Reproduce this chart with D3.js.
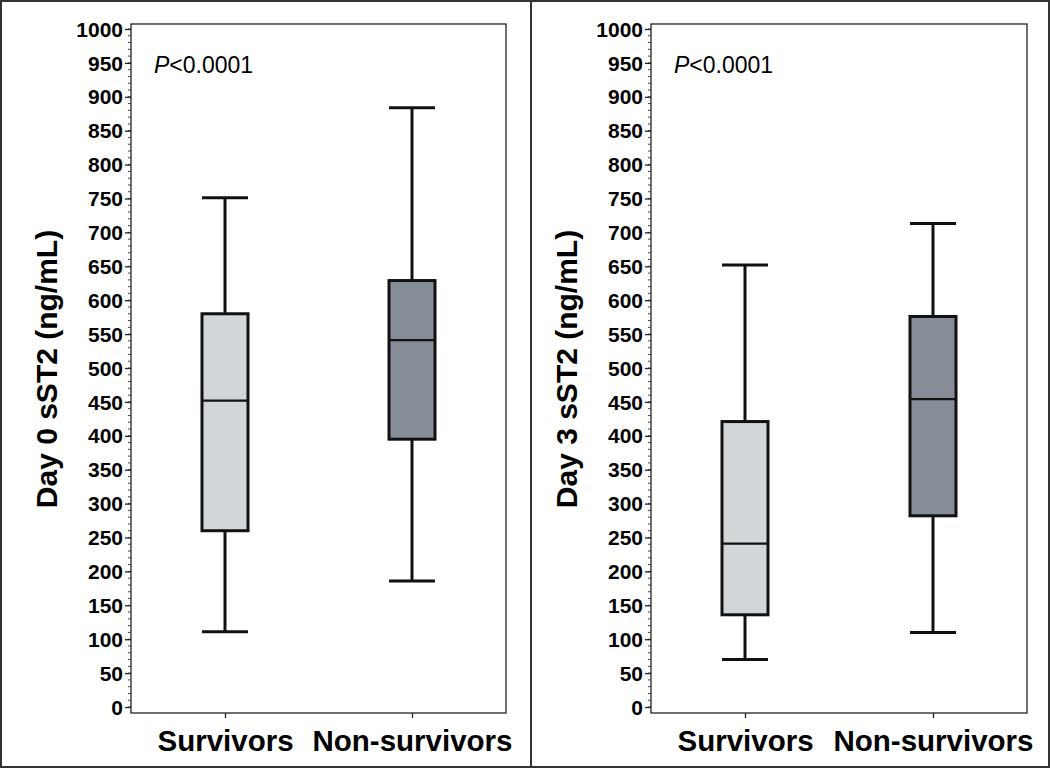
<!DOCTYPE html>
<html><head><meta charset="utf-8">
<script src="https://cdn.jsdelivr.net/npm/d3@7"></script>
<style>body{margin:0;background:#fff}svg{display:block}</style>
</head><body>
<script>
const categories = ["Survivors", "Non-survivors"];
const panelTitles = ["Day 0 sST2 (ng/mL)", "Day 3 sST2 (ng/mL)"];
const pText = "<0.0001";
// [whiskerLow, q1, median, q3, whiskerHigh] per category
const day0 = [[111, 260, 452, 580, 751], [186, 395, 541, 629, 884]];
const day3 = [[70, 136, 241, 421, 652], [110, 282, 454, 576, 713]];
const yTicks = d3.range(0, 1001, 50);
const fills = ["#d3d6d9", "#878d96"];

const W = 1050, H = 768;
const svg = d3.select("body").append("svg").attr("width", W).attr("height", H);
svg.append("rect").attr("x", 1).attr("y", 1).attr("width", W - 2).attr("height", H - 2)
  .attr("fill", "#fff").attr("stroke", "#333").attr("stroke-width", 2);
svg.append("line").attr("x1", 531).attr("x2", 531).attr("y1", 0).attr("y2", H)
  .attr("stroke", "#333").attr("stroke-width", 2);

const panels = [
  {data: day0, title: panelTitles[0], x0: 131, x1: 506, labX: 57},
  {data: day3, title: panelTitles[1], x0: 651, x1: 1027, labX: 577}
];
const font = "'Liberation Sans', Arial, sans-serif";

panels.forEach(p => {
  const y = d3.scaleLinear().domain([0, 1000]).range([707, 29]);
  const x = d3.scalePoint().domain(categories).range([p.x0 + 94, p.x1 - 94]);
  const g = svg.append("g");
  // frame
  g.append("rect").attr("x", p.x0).attr("y", 24).attr("width", p.x1 - p.x0).attr("height", 713 - 24)
    .attr("fill", "none").attr("stroke", "#222").attr("stroke-width", 1.3);
  // minor ticks
  const minor = d3.range(0, 1001, 10);
  g.selectAll(".minor").data(minor).join("line")
    .attr("x1", p.x0 - 3).attr("x2", p.x0).attr("y1", d => y(d)).attr("y2", d => y(d))
    .attr("stroke", "#444").attr("stroke-width", 1);
  // y axis
  const ya = d3.axisLeft(y).tickValues(yTicks).tickSize(6).tickPadding(2).tickFormat(d3.format("d"));
  const ag = g.append("g").attr("transform", `translate(${p.x0},0)`).call(ya);
  ag.select(".domain").remove();
  ag.selectAll(".tick line").attr("stroke", "#222").attr("stroke-width", 1.3);
  ag.selectAll(".tick text").attr("font-family", font).attr("font-weight", "bold")
    .attr("font-size", 21).attr("fill", "#000").attr("dy", "0.34em");
  // x axis
  const xa = d3.axisBottom(x).tickSize(5).tickPadding(12);
  const xg = g.append("g").attr("transform", `translate(0,713)`).call(xa);
  xg.select(".domain").remove();
  xg.selectAll(".tick line").attr("stroke", "#222").attr("stroke-width", 1.3);
  xg.selectAll(".tick text").attr("font-family", font).attr("font-weight", "bold")
    .attr("font-size", 29.5).attr("fill", "#000");
  // y label
  g.append("text").attr("transform", `translate(${p.labX},369) rotate(-90)`)
    .attr("text-anchor", "middle").attr("font-family", font).attr("font-weight", "bold")
    .attr("font-size", 30).attr("fill", "#000").text(p.title);
  // P value
  const t = g.append("text").attr("x", p.x0 + 23).attr("y", 73).attr("font-family", font)
    .attr("font-size", 23).attr("fill", "#000");
  t.append("tspan").attr("font-style", "italic").text("P");
  t.append("tspan").text(pText);
  // boxes
  const bw = 46;
  p.data.forEach((d, i) => {
    const cx = x(categories[i]);
    const bg = g.append("g");
    bg.append("line").attr("x1", cx).attr("x2", cx).attr("y1", y(d[4])).attr("y2", y(d[3]))
      .attr("stroke", "#111").attr("stroke-width", 3);
    bg.append("line").attr("x1", cx).attr("x2", cx).attr("y1", y(d[1])).attr("y2", y(d[0]))
      .attr("stroke", "#111").attr("stroke-width", 3);
    [d[0], d[4]].forEach(v => bg.append("line").attr("x1", cx - bw / 2).attr("x2", cx + bw / 2)
      .attr("y1", y(v)).attr("y2", y(v)).attr("stroke", "#111").attr("stroke-width", 3));
    bg.append("rect").attr("x", cx - bw / 2).attr("y", y(d[3])).attr("width", bw)
      .attr("height", y(d[1]) - y(d[3])).attr("fill", fills[i]).attr("stroke", "#111").attr("stroke-width", 3);
    bg.append("line").attr("x1", cx - bw / 2).attr("x2", cx + bw / 2).attr("y1", y(d[2])).attr("y2", y(d[2]))
      .attr("stroke", "#111").attr("stroke-width", 2.2);
  });
});
</script>
</body></html>
